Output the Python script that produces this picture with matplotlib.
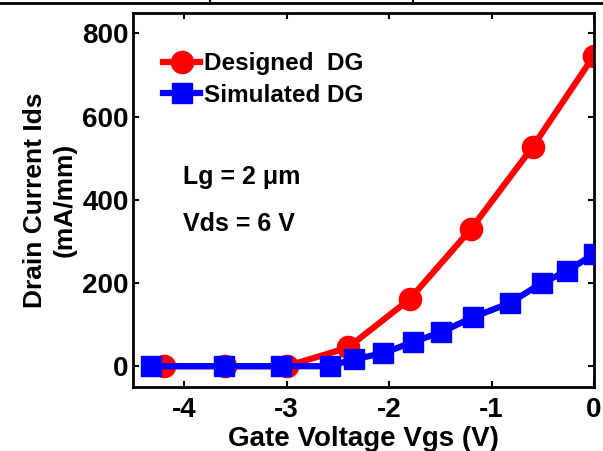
import matplotlib
matplotlib.use('Agg')
import matplotlib.pyplot as plt
from matplotlib.lines import Line2D

plt.rcParams['font.family'] = ['Liberation Sans', 'DejaVu Sans']
plt.rcParams['font.weight'] = 'bold'

# Designed DG (red circles)
vgs_designed = [-4.2, -3.6, -3.0, -2.4, -1.8, -1.2, -0.6, 0.0]
ids_designed = [0, 0, 0, 45, 161, 330, 527, 747]

# Simulated DG (blue squares)
vgs_simulated = [-4.32, -3.61, -3.06, -2.58, -2.34, -2.06, -1.77, -1.49,
                 -1.18, -0.82, -0.51, -0.26, 0.0]
ids_simulated = [0, 0, 0, 0, 17, 31, 58, 82, 118, 152, 200, 229, 270]

xticks = [-4, -3, -2, -1, 0]
yticks = [0, 200, 400, 600, 800]

fig = plt.figure(figsize=(6.03, 4.51), dpi=100)
ax = fig.add_axes([0.2206, 0.1419, 0.7645, 0.830])

ax.plot(vgs_designed, ids_designed, color='red', lw=4.5, marker='o',
        markersize=16, label='Designed  DG', zorder=2)
ax.plot(vgs_simulated, ids_simulated, color='blue', lw=4.5, marker='s',
        markersize=14, label='Simulated DG', zorder=3)

ax.set_xlim(-4.5, 0)
ax.set_ylim(-50, 850)
ax.set_xticks(xticks)
ax.set_yticks(yticks)
ax.set_xticklabels([str(t) for t in xticks])
ax.tick_params(direction='in', length=4, width=1.5, top=True, right=True,
               labelsize=20, pad=3)
ax.tick_params(axis='x', pad=7)
for lab in ax.get_xticklabels() + ax.get_yticklabels():
    lab.set_fontweight('bold')
for sp in ax.spines.values():
    sp.set_linewidth(2)

ax.set_xlabel('Gate Voltage Vgs (V)', fontsize=20, fontweight='bold', labelpad=2)
ax.set_ylabel('Drain Current Ids\n(mA/mm)', fontsize=19, fontweight='bold',
              labelpad=4, linespacing=1.3)

ax.legend(loc='upper left', bbox_to_anchor=(0.045, 0.92), frameon=False,
          fontsize=17.5, handlelength=1.5, handletextpad=0.15,
          labelspacing=0.35, borderaxespad=0.0)

ax.text(-4.01, 455, 'Lg = 2 \u03bcm', fontsize=18, fontweight='bold',
        va='center', ha='left')
ax.text(-4.01, 342, 'Vds = 6 V', fontsize=18, fontweight='bold',
        va='center', ha='left')

# border of the table cell above the figure
fig.add_artist(Line2D([0, 1], [0.994, 0.994], color='black', lw=2,
                      transform=fig.transFigure))
for xp in [210 / 603, 413 / 603]:
    fig.add_artist(Line2D([xp, xp], [0.994, 1.0], color='black', lw=1.5,
                          transform=fig.transFigure))

fig.savefig('out.png', dpi=100)
